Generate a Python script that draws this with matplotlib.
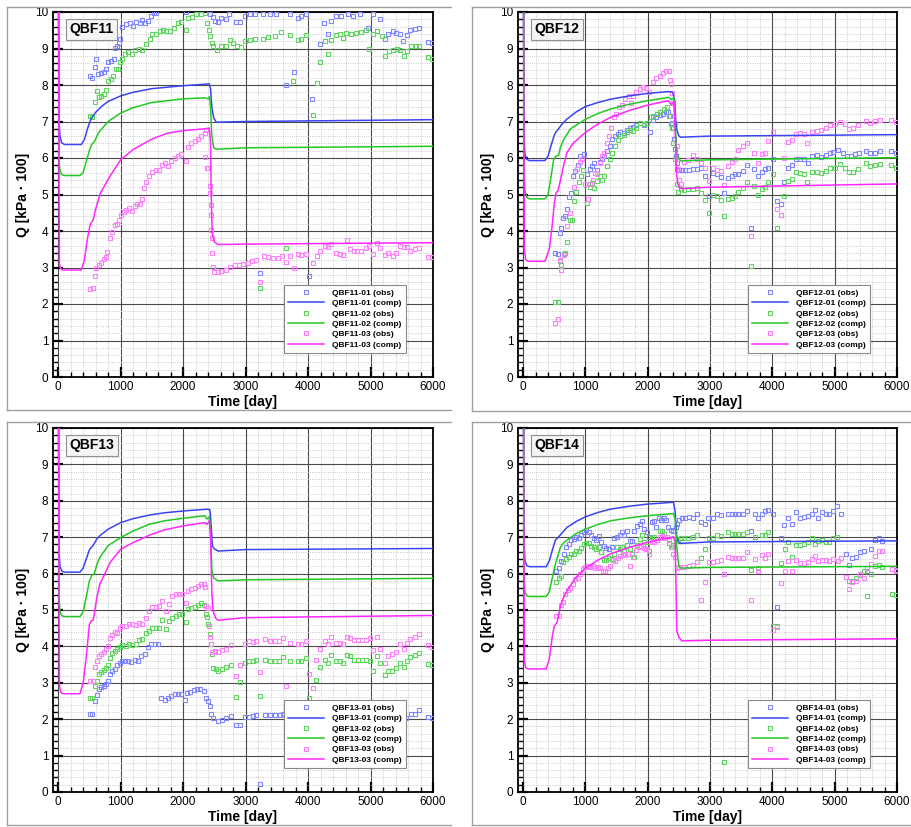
import matplotlib
matplotlib.use('Agg')
import matplotlib.pyplot as plt
from matplotlib.ticker import MultipleLocator
from matplotlib.lines import Line2D

plt.rcParams['font.family'] = ['Liberation Sans', 'DejaVu Sans']

# ---------------- QBF11 ----------------
qbf11_01_comp_t = [8, 15, 30, 55, 100, 370, 420, 470, 520, 600, 700, 800, 1000, 1200, 1500, 2000, 2420, 2440, 2460, 2490, 2530, 3000, 6000]
qbf11_01_comp_q = [10.5, 7.0, 6.6, 6.42, 6.37, 6.37, 6.5, 6.8, 7.05, 7.25, 7.42, 7.55, 7.7, 7.8, 7.9, 7.98, 8.03, 7.9, 7.4, 7.1, 6.98, 7.0, 7.05]
qbf11_02_comp_t = [8, 15, 30, 55, 100, 350, 400, 450, 500, 540, 580, 650, 800, 1000, 1200, 1500, 2000, 2350, 2400, 2420, 2440, 2460, 2490, 2530, 3000, 6000]
qbf11_02_comp_q = [10.5, 5.9, 5.65, 5.55, 5.52, 5.52, 5.6, 5.9, 6.2, 6.38, 6.45, 6.7, 7.0, 7.23, 7.38, 7.52, 7.62, 7.65, 7.62, 7.68, 7.4, 6.6, 6.28, 6.24, 6.28, 6.32]
qbf11_03_comp_t = [5, 20, 40, 80, 370, 420, 470, 510, 540, 560, 600, 680, 830, 1000, 1200, 1500, 1750, 2000, 2350, 2420, 2440, 2450, 2465, 2500, 2560, 3000, 6000]
qbf11_03_comp_q = [10.5, 3.1, 2.97, 2.93, 2.93, 3.2, 3.8, 4.15, 4.25, 4.3, 4.6, 5.05, 5.5, 5.95, 6.23, 6.52, 6.68, 6.75, 6.8, 6.82, 6.4, 5.0, 3.95, 3.7, 3.63, 3.64, 3.68]

qbf11_01_obs_t = [517, 549, 587, 613, 645, 693, 731, 773, 800, 843, 891, 907, 944, 976, 997, 1029, 1083, 1147, 1200, 1253, 1307, 1349, 1387, 1440, 1493, 1531, 1573, 2050, 2427, 2480, 2507, 2560, 2613, 2683, 2736, 2853, 2917, 2987, 3067, 3147, 3227, 3280, 3387, 3493, 3653, 3707, 3771, 3840, 3893, 3963, 4016, 4069, 4197, 4251, 4320, 4373, 4453, 4533, 4640, 4720, 4827, 4960, 5040, 5147, 5227, 5280, 5360, 5413, 5467, 5520, 5584, 5637, 5707, 5776, 5920, 5989]
qbf11_01_obs_q = [8.26, 8.18, 8.49, 8.72, 8.29, 8.32, 8.35, 8.44, 8.63, 8.67, 8.70, 9.02, 9.07, 9.16, 9.27, 9.6, 9.66, 9.69, 9.62, 9.73, 9.69, 9.78, 9.69, 9.75, 9.89, 9.96, 9.98, 10.0, 9.94, 9.87, 9.75, 9.72, 9.84, 9.8, 9.94, 9.72, 9.72, 9.9, 9.94, 9.94, 2.84, 9.94, 9.94, 9.94, 8.0, 9.94, 8.36, 9.84, 9.9, 9.94, 2.77, 7.62, 9.13, 9.69, 9.39, 9.75, 9.9, 9.9, 9.94, 9.9, 9.94, 9.57, 9.94, 9.82, 9.25, 9.40, 9.48, 9.43, 9.39, 9.2, 9.36, 9.5, 9.54, 9.57, 9.18, 9.14]

qbf11_02_obs_t = [507, 549, 587, 624, 656, 693, 731, 773, 800, 843, 880, 923, 960, 987, 1029, 1067, 1120, 1189, 1227, 1296, 1349, 1403, 1467, 1509, 1573, 1627, 1680, 1733, 1797, 1851, 1920, 1973, 2043, 2080, 2149, 2213, 2293, 2347, 2384, 2416, 2437, 2459, 2480, 2544, 2613, 2693, 2747, 2800, 2864, 2933, 2987, 3067, 3147, 3227, 3280, 3360, 3467, 3573, 3653, 3707, 3760, 3840, 3893, 3963, 4080, 4144, 4197, 4267, 4320, 4373, 4453, 4507, 4560, 4613, 4693, 4773, 4853, 4923, 4976, 5040, 5104, 5189, 5227, 5296, 5360, 5424, 5467, 5531, 5584, 5653, 5723, 5776, 5920, 5989]
qbf11_02_obs_q = [7.14, 7.12, 7.53, 7.83, 7.67, 7.71, 7.74, 7.86, 8.1, 8.17, 8.26, 8.44, 8.44, 8.63, 8.72, 8.86, 8.9, 8.84, 8.97, 8.99, 8.97, 9.11, 9.27, 9.39, 9.41, 9.48, 9.51, 9.48, 9.48, 9.57, 9.69, 9.72, 9.51, 9.84, 9.87, 9.94, 9.94, 9.96, 9.69, 9.51, 9.34, 9.16, 9.07, 8.97, 9.08, 9.08, 9.23, 9.16, 9.07, 9.05, 9.2, 9.23, 9.27, 2.45, 9.27, 9.32, 9.34, 9.45, 3.54, 9.36, 8.1, 9.23, 9.25, 9.36, 7.17, 8.06, 8.64, 9.2, 8.86, 9.23, 9.36, 9.39, 9.29, 9.43, 9.41, 9.43, 9.45, 9.51, 8.99, 9.39, 9.48, 9.34, 8.79, 8.93, 8.96, 8.99, 8.96, 8.79, 8.93, 9.07, 9.08, 9.08, 8.77, 8.72]

qbf11_03_obs_t = [517, 560, 587, 613, 656, 693, 731, 763, 784, 827, 869, 907, 944, 976, 1013, 1051, 1093, 1136, 1189, 1227, 1264, 1307, 1349, 1371, 1413, 1456, 1509, 1563, 1616, 1669, 1707, 1760, 1813, 1867, 1920, 1973, 2043, 2080, 2133, 2187, 2240, 2293, 2347, 2373, 2357, 2380, 2400, 2427, 2437, 2443, 2448, 2453, 2464, 2469, 2480, 2491, 2560, 2613, 2683, 2747, 2827, 2896, 2960, 3040, 3109, 3173, 3227, 3291, 3360, 3440, 3520, 3589, 3653, 3717, 3771, 3840, 3893, 3963, 4080, 4144, 4197, 4267, 4320, 4373, 4453, 4507, 4560, 4624, 4677, 4731, 4784, 4853, 4923, 4976, 5040, 5104, 5157, 5227, 5280, 5360, 5413, 5467, 5531, 5584, 5637, 5707, 5776, 5920, 5989]
qbf11_03_obs_q = [2.4, 2.45, 2.77, 2.98, 3.07, 3.11, 3.22, 3.3, 3.42, 3.8, 3.96, 4.17, 4.19, 4.29, 4.44, 4.53, 4.58, 4.62, 4.56, 4.69, 4.74, 4.74, 4.87, 5.17, 5.33, 5.51, 5.63, 5.66, 5.66, 5.8, 5.86, 5.79, 5.91, 6.0, 6.06, 6.12, 5.93, 6.3, 6.41, 6.46, 6.52, 6.61, 6.68, 6.78, 6.03, 5.72, 5.72, 5.22, 5.04, 4.72, 4.44, 4.03, 3.8, 3.39, 3.02, 2.88, 2.88, 2.91, 2.93, 3.02, 3.07, 3.07, 3.1, 3.13, 3.19, 3.21, 2.61, 3.32, 3.28, 3.25, 3.25, 3.32, 3.16, 3.32, 2.98, 3.37, 3.34, 3.37, 3.11, 3.32, 3.46, 3.59, 3.55, 3.64, 3.39, 3.37, 3.34, 3.74, 3.5, 3.46, 3.46, 3.46, 3.53, 3.59, 3.37, 3.68, 3.53, 3.34, 3.41, 3.32, 3.41, 3.59, 3.57, 3.55, 3.46, 3.5, 3.53, 3.28, 3.28]

# ---------------- QBF12 ----------------
qbf12_01_comp_t = [8, 15, 30, 60, 100, 350, 400, 450, 500, 530, 560, 620, 700, 850, 1000, 1200, 1400, 1700, 2000, 2333, 2400, 2430, 2450, 2470, 2500, 2530, 3000, 6000]
qbf12_01_comp_q = [10.5, 6.5, 6.1, 5.96, 5.93, 5.93, 6.05, 6.35, 6.62, 6.72, 6.78, 6.92, 7.06, 7.26, 7.41, 7.52, 7.61, 7.7, 7.77, 7.82, 7.8, 7.6, 7.0, 6.75, 6.6, 6.57, 6.6, 6.64]
qbf12_02_comp_t = [8, 15, 30, 60, 100, 350, 400, 450, 490, 530, 570, 600, 650, 760, 1000, 1200, 1400, 1700, 2000, 2333, 2380, 2420, 2440, 2460, 2490, 2530, 3000, 6000]
qbf12_02_comp_q = [10.5, 5.6, 5.1, 4.92, 4.88, 4.88, 5.0, 5.5, 5.96, 6.05, 6.08, 6.3, 6.5, 6.8, 7.06, 7.22, 7.34, 7.47, 7.57, 7.66, 7.6, 7.65, 7.0, 6.2, 6.0, 5.92, 5.95, 6.01]
qbf12_03_comp_t = [5, 20, 40, 80, 350, 420, 470, 500, 530, 560, 600, 650, 705, 800, 1000, 1200, 1400, 1700, 2000, 2333, 2380, 2420, 2440, 2460, 2480, 2510, 2550, 3000, 6000]
qbf12_03_comp_q = [10.5, 3.5, 3.22, 3.17, 3.17, 3.5, 4.2, 4.75, 5.05, 5.1, 5.4, 5.8, 6.15, 6.4, 6.7, 6.93, 7.11, 7.3, 7.45, 7.57, 7.45, 7.55, 6.8, 5.6, 5.3, 5.18, 5.16, 5.2, 5.29]

qbf12_01_obs_t = [518, 555, 587, 609, 641, 678, 705, 737, 769, 801, 838, 875, 907, 945, 982, 1025, 1068, 1105, 1142, 1185, 1228, 1265, 1302, 1345, 1388, 1431, 1479, 1516, 1559, 1612, 1665, 1708, 1762, 1815, 1879, 1932, 1986, 2039, 2082, 2135, 2189, 2242, 2295, 2333, 2359, 2386, 2402, 2423, 2439, 2455, 2466, 2477, 2509, 2546, 2600, 2669, 2733, 2797, 2850, 2920, 2989, 3053, 3117, 3171, 3224, 3294, 3347, 3400, 3454, 3523, 3587, 3651, 3704, 3774, 3827, 3881, 3934, 4014, 4078, 4132, 4185, 4254, 4308, 4377, 4441, 4505, 4575, 4628, 4719, 4788, 4858, 4922, 4975, 5055, 5135, 5199, 5269, 5322, 5391, 5498, 5573, 5642, 5733, 5909, 5989]
qbf12_01_obs_q = [3.41, 3.38, 3.94, 4.08, 4.36, 4.42, 4.61, 4.94, 5.03, 5.52, 5.64, 5.8, 6.06, 5.98, 6.1, 5.55, 5.71, 5.78, 5.85, 5.67, 5.89, 5.98, 6.06, 6.19, 6.33, 6.51, 6.59, 6.65, 6.7, 6.68, 6.77, 6.83, 6.86, 6.9, 6.95, 6.9, 6.95, 6.72, 7.05, 7.11, 7.17, 7.2, 7.27, 7.25, 7.14, 6.97, 6.83, 6.51, 6.24, 6.06, 5.85, 5.69, 5.67, 5.67, 5.67, 5.67, 5.71, 5.71, 5.73, 5.5, 4.97, 5.58, 5.55, 5.49, 5.05, 5.46, 5.52, 5.55, 5.55, 5.64, 5.8, 4.08, 5.69, 5.5, 5.61, 5.69, 5.73, 5.96, 4.82, 4.75, 5.34, 5.73, 5.8, 5.96, 5.98, 5.98, 5.85, 6.06, 6.07, 6.04, 6.07, 6.13, 6.17, 6.22, 6.15, 6.06, 6.06, 6.1, 6.13, 6.19, 6.13, 6.13, 6.19, 6.19, 6.13]

qbf12_02_obs_t = [518, 555, 587, 609, 651, 678, 705, 758, 785, 822, 854, 891, 929, 961, 1025, 1068, 1105, 1142, 1185, 1228, 1265, 1302, 1345, 1388, 1431, 1479, 1516, 1559, 1612, 1665, 1708, 1762, 1815, 1879, 1932, 1986, 2050, 2092, 2146, 2199, 2253, 2306, 2349, 2370, 2386, 2413, 2439, 2466, 2493, 2530, 2584, 2653, 2733, 2797, 2850, 2920, 2989, 3053, 3117, 3171, 3224, 3294, 3347, 3400, 3454, 3523, 3587, 3651, 3704, 3774, 3827, 3881, 3934, 4014, 4078, 4132, 4185, 4254, 4308, 4377, 4441, 4505, 4559, 4628, 4719, 4788, 4858, 4922, 5002, 5082, 5162, 5231, 5295, 5375, 5498, 5573, 5642, 5733, 5909, 5989]
qbf12_02_obs_q = [2.06, 2.06, 3.17, 3.06, 3.38, 3.41, 3.69, 4.31, 4.31, 4.82, 5.06, 5.34, 5.52, 5.67, 4.77, 5.21, 5.32, 5.18, 5.37, 5.5, 5.41, 5.52, 5.78, 5.96, 6.13, 6.33, 6.5, 6.59, 6.62, 6.72, 6.77, 6.74, 6.81, 6.95, 6.93, 6.97, 7.11, 7.14, 7.2, 7.27, 7.34, 7.39, 7.16, 6.93, 6.83, 6.42, 5.96, 5.28, 5.06, 5.14, 5.12, 5.16, 5.16, 5.18, 5.05, 4.84, 4.5, 5.0, 4.95, 4.86, 4.4, 4.88, 4.91, 4.95, 5.06, 5.18, 5.34, 3.05, 5.23, 5.0, 5.16, 5.21, 5.34, 5.55, 4.08, 4.45, 4.97, 5.37, 5.43, 5.61, 5.58, 5.55, 5.34, 5.61, 5.61, 5.58, 5.64, 5.73, 5.73, 5.83, 5.73, 5.61, 5.61, 5.69, 5.85, 5.78, 5.8, 5.83, 5.8, 5.73]

qbf12_03_obs_t = [518, 555, 587, 609, 651, 705, 758, 822, 865, 907, 950, 998, 1036, 1078, 1121, 1158, 1185, 1228, 1265, 1302, 1345, 1372, 1409, 1452, 1495, 1537, 1585, 1639, 1692, 1730, 1762, 1815, 1868, 1922, 1975, 2028, 2082, 2135, 2189, 2242, 2295, 2349, 2352, 2370, 2386, 2413, 2439, 2466, 2477, 2493, 2509, 2530, 2584, 2653, 2733, 2797, 2850, 2920, 2989, 3053, 3117, 3171, 3224, 3294, 3347, 3400, 3454, 3523, 3587, 3651, 3704, 3774, 3827, 3881, 3934, 4014, 4078, 4132, 4185, 4254, 4308, 4377, 4441, 4505, 4559, 4628, 4719, 4788, 4858, 4922, 5002, 5082, 5162, 5231, 5295, 5375, 5498, 5573, 5642, 5733, 5909, 5989]
qbf12_03_obs_q = [1.47, 1.58, 3.21, 2.92, 3.35, 4.15, 4.5, 5.21, 5.69, 5.89, 5.96, 5.3, 4.88, 5.28, 5.41, 5.6, 5.55, 5.87, 6.06, 6.13, 6.42, 6.61, 6.83, 7.11, 7.2, 7.39, 7.45, 7.63, 7.69, 7.52, 7.69, 7.8, 7.89, 7.94, 7.91, 7.82, 8.09, 8.18, 8.26, 8.33, 8.39, 8.37, 8.15, 8.03, 7.78, 7.52, 6.97, 6.33, 5.96, 5.69, 5.41, 5.3, 5.89, 5.94, 6.07, 5.98, 5.85, 5.73, 5.37, 5.73, 5.67, 5.64, 5.25, 5.78, 5.89, 5.98, 6.22, 6.33, 6.4, 3.87, 6.13, 5.87, 6.1, 6.13, 6.47, 6.7, 4.61, 4.45, 6.01, 6.44, 6.5, 6.65, 6.68, 6.65, 6.42, 6.72, 6.74, 6.77, 6.83, 6.9, 6.93, 6.99, 6.93, 6.79, 6.81, 6.9, 7.02, 6.95, 7.02, 7.05, 7.05, 6.99]

# ---------------- QBF13 ----------------
qbf13_01_comp_t = [8, 15, 30, 60, 100, 350, 400, 450, 500, 530, 570, 620, 667, 800, 1000, 1200, 1467, 1700, 2000, 2400, 2430, 2450, 2470, 2500, 2560, 3000, 6000]
qbf13_01_comp_q = [10.5, 6.6, 6.2, 6.07, 6.04, 6.04, 6.15, 6.4, 6.65, 6.72, 6.8, 6.95, 7.04, 7.22, 7.4, 7.51, 7.61, 7.67, 7.72, 7.77, 7.75, 7.3, 6.75, 6.68, 6.62, 6.66, 6.69]
qbf13_02_comp_t = [8, 15, 30, 60, 100, 350, 400, 450, 500, 540, 580, 620, 667, 800, 1000, 1200, 1467, 1700, 2000, 2347, 2380, 2420, 2440, 2460, 2490, 2560, 3000, 6000]
qbf13_02_comp_q = [10.5, 5.3, 4.95, 4.84, 4.82, 4.82, 4.95, 5.35, 5.8, 5.95, 6.0, 6.25, 6.44, 6.77, 6.99, 7.17, 7.36, 7.45, 7.52, 7.59, 7.5, 7.56, 7.2, 6.1, 5.88, 5.8, 5.83, 5.87]
qbf13_03_comp_t = [5, 20, 40, 80, 350, 400, 450, 500, 530, 560, 580, 620, 667, 750, 830, 1000, 1200, 1467, 1700, 2000, 2347, 2380, 2420, 2440, 2460, 2480, 2520, 2560, 3000, 6000]
qbf13_03_comp_q = [10.5, 2.95, 2.74, 2.7, 2.7, 3.0, 3.7, 4.6, 4.7, 4.72, 4.9, 5.35, 5.71, 6.0, 6.3, 6.67, 6.85, 7.06, 7.2, 7.31, 7.4, 7.35, 7.45, 7.0, 5.5, 4.97, 4.78, 4.72, 4.79, 4.85]

qbf13_01_obs_t = [507, 549, 587, 624, 656, 693, 731, 763, 800, 837, 869, 907, 944, 987, 1029, 1067, 1120, 1173, 1227, 1280, 1333, 1387, 1440, 1493, 1547, 1600, 1653, 1707, 1760, 1813, 1867, 1920, 1973, 2027, 2064, 2117, 2171, 2224, 2277, 2331, 2373, 2400, 2427, 2453, 2480, 2560, 2629, 2693, 2773, 2853, 2917, 2987, 3056, 3120, 3173, 3227, 3307, 3387, 3467, 3547, 3600, 3653, 3720, 3840, 3960, 4100, 4250, 4400, 4600, 4800, 5000, 5200, 5400, 5573, 5653, 5707, 5776, 5920, 5989]
qbf13_01_obs_q = [2.13, 2.15, 2.5, 2.66, 2.82, 2.88, 2.91, 2.97, 3.05, 3.25, 3.32, 3.39, 3.49, 3.55, 3.6, 3.6, 3.61, 3.58, 3.64, 3.61, 3.73, 3.8, 3.98, 4.06, 4.07, 4.07, 2.59, 2.54, 2.57, 2.63, 2.7, 2.7, 2.7, 2.54, 2.72, 2.75, 2.79, 2.82, 2.84, 2.77, 2.57, 2.51, 2.36, 2.13, 2.04, 1.96, 1.99, 2.04, 2.08, 1.83, 1.83, 2.06, 2.06, 2.08, 2.11, 0.22, 2.11, 2.11, 2.11, 2.11, 2.15, 1.47, 2.12, 2.1, 2.15, 2.2, 2.15, 2.2, 2.25, 2.2, 2.25, 2.15, 2.1, 2.04, 2.13, 2.15, 2.24, 2.06, 2.02]

qbf13_02_obs_t = [507, 549, 587, 624, 656, 693, 731, 763, 800, 837, 869, 907, 944, 987, 1029, 1083, 1136, 1189, 1243, 1296, 1349, 1403, 1456, 1509, 1563, 1616, 1669, 1723, 1776, 1829, 1883, 1936, 1989, 2043, 2080, 2133, 2187, 2240, 2293, 2331, 2363, 2384, 2400, 2427, 2453, 2469, 2480, 2523, 2560, 2629, 2693, 2773, 2853, 2917, 2987, 3056, 3120, 3173, 3227, 3307, 3387, 3467, 3536, 3600, 3653, 3717, 3840, 3893, 3963, 4016, 4133, 4197, 4267, 4320, 4373, 4443, 4507, 4560, 4624, 4677, 4731, 4800, 4869, 4933, 4987, 5040, 5104, 5157, 5227, 5280, 5349, 5413, 5467, 5531, 5584, 5637, 5707, 5776, 5920, 5989]
qbf13_02_obs_q = [2.57, 2.59, 2.91, 3.06, 3.25, 3.3, 3.34, 3.41, 3.5, 3.67, 3.83, 3.87, 3.94, 3.98, 4.04, 4.01, 4.07, 4.04, 4.07, 4.17, 4.19, 4.38, 4.42, 4.5, 4.5, 4.51, 4.72, 4.47, 4.7, 4.79, 4.83, 4.88, 4.9, 4.68, 5.02, 5.06, 5.08, 5.14, 5.2, 5.14, 4.9, 4.81, 4.61, 4.33, 4.06, 3.78, 3.41, 3.37, 3.32, 3.37, 3.43, 3.5, 2.61, 3.03, 3.55, 3.61, 3.61, 3.64, 2.63, 3.64, 3.61, 3.61, 3.61, 3.71, 2.36, 3.61, 3.6, 3.61, 3.67, 2.59, 3.09, 3.43, 3.64, 3.55, 3.76, 3.6, 3.6, 3.55, 3.76, 3.73, 3.64, 3.64, 3.64, 3.64, 3.61, 3.32, 3.73, 3.55, 3.21, 3.32, 3.32, 3.41, 3.55, 3.43, 3.61, 3.71, 3.76, 3.83, 3.52, 3.49]

qbf13_03_obs_t = [517, 560, 587, 624, 656, 693, 731, 763, 800, 837, 869, 907, 944, 987, 1029, 1083, 1136, 1189, 1243, 1296, 1349, 1403, 1456, 1509, 1563, 1616, 1669, 1723, 1776, 1829, 1883, 1936, 1989, 2043, 2080, 2133, 2187, 2240, 2293, 2331, 2347, 2373, 2400, 2416, 2437, 2453, 2469, 2507, 2560, 2629, 2693, 2773, 2853, 2917, 2987, 3056, 3120, 3173, 3227, 3307, 3387, 3467, 3536, 3600, 3653, 3717, 3840, 3893, 3963, 4016, 4080, 4133, 4197, 4267, 4320, 4373, 4443, 4507, 4560, 4624, 4677, 4731, 4800, 4869, 4933, 4987, 5040, 5104, 5157, 5227, 5280, 5349, 5413, 5467, 5531, 5584, 5637, 5707, 5776, 5920, 5989]
qbf13_03_obs_q = [3.05, 3.05, 3.43, 3.6, 3.73, 3.8, 3.85, 3.92, 4.01, 4.22, 4.31, 4.4, 4.38, 4.51, 4.56, 4.56, 4.61, 4.62, 4.59, 4.65, 4.61, 4.79, 4.97, 5.08, 5.08, 5.11, 5.25, 4.97, 5.17, 5.39, 5.43, 5.45, 5.43, 5.2, 5.52, 5.57, 5.6, 5.66, 5.71, 5.72, 5.63, 5.11, 5.06, 4.56, 4.26, 4.07, 3.85, 3.87, 3.85, 3.89, 3.92, 4.04, 3.18, 3.5, 4.07, 4.15, 4.13, 4.15, 3.3, 4.19, 4.15, 4.15, 4.15, 4.24, 2.91, 4.1, 4.07, 4.07, 4.15, 3.25, 2.86, 3.64, 3.94, 4.15, 4.07, 4.26, 4.1, 4.1, 4.07, 4.26, 4.22, 4.17, 4.17, 4.17, 4.17, 4.24, 3.89, 4.26, 3.92, 3.55, 3.73, 3.78, 3.85, 4.07, 3.94, 4.1, 4.19, 4.26, 4.33, 4.04, 3.98]

# ---------------- QBF14 ----------------
qbf14_01_comp_t = [8, 15, 30, 60, 100, 370, 420, 470, 518, 550, 600, 705, 850, 1000, 1200, 1400, 1700, 2000, 2413, 2440, 2466, 2490, 2520, 3000, 6000]
qbf14_01_comp_q = [10.5, 6.8, 6.35, 6.22, 6.19, 6.19, 6.35, 6.65, 6.92, 6.97, 7.07, 7.27, 7.43, 7.56, 7.68, 7.77, 7.85, 7.91, 7.96, 7.7, 6.99, 6.88, 6.83, 6.87, 6.9]
qbf14_02_comp_t = [8, 15, 30, 60, 100, 370, 420, 470, 518, 560, 598, 650, 705, 850, 1000, 1200, 1400, 1700, 2000, 2413, 2440, 2466, 2500, 2530, 3000, 6000]
qbf14_02_comp_q = [10.5, 5.9, 5.5, 5.39, 5.37, 5.37, 5.5, 5.9, 6.26, 6.5, 6.72, 6.85, 6.92, 7.1, 7.22, 7.35, 7.45, 7.53, 7.59, 7.65, 7.5, 6.72, 6.2, 6.15, 6.17, 6.2]
qbf14_03_comp_t = [5, 20, 40, 80, 370, 420, 470, 500, 544, 570, 598, 650, 705, 850, 1000, 1200, 1400, 1700, 2000, 2413, 2440, 2455, 2466, 2500, 2546, 3000, 6000]
qbf14_03_comp_q = [10.5, 3.6, 3.42, 3.38, 3.38, 3.65, 4.3, 4.55, 4.66, 4.85, 5.11, 5.35, 5.53, 5.9, 6.15, 6.37, 6.54, 6.72, 6.86, 7.01, 6.9, 5.5, 4.43, 4.25, 4.15, 4.17, 4.21]

qbf14_01_obs_t = [534, 571, 609, 651, 694, 731, 769, 811, 854, 891, 929, 972, 1014, 1052, 1089, 1132, 1174, 1212, 1249, 1292, 1334, 1372, 1425, 1463, 1505, 1548, 1585, 1623, 1665, 1708, 1745, 1783, 1826, 1868, 1906, 1943, 1986, 2028, 2066, 2103, 2135, 2173, 2210, 2253, 2295, 2333, 2370, 2413, 2455, 2477, 2509, 2546, 2600, 2669, 2733, 2797, 2850, 2920, 2973, 3053, 3107, 3171, 3224, 3294, 3347, 3400, 3454, 3523, 3587, 3651, 3721, 3774, 3827, 3881, 3934, 4014, 4068, 4132, 4185, 4254, 4308, 4377, 4441, 4505, 4575, 4628, 4682, 4735, 4804, 4858, 4911, 4975, 5039, 5109, 5178, 5231, 5285, 5349, 5402, 5466, 5519, 5589, 5642, 5712, 5765, 5925, 5989]
qbf14_01_obs_q = [6.08, 6.15, 6.35, 6.54, 6.74, 6.81, 6.92, 6.95, 7.01, 6.98, 7.07, 7.13, 7.2, 7.13, 7.07, 6.98, 6.92, 7.04, 6.86, 6.76, 6.7, 6.67, 6.74, 6.99, 7.01, 7.07, 7.13, 7.07, 7.18, 6.9, 6.9, 7.18, 7.31, 7.36, 7.45, 7.22, 7.13, 7.01, 7.43, 7.45, 7.27, 7.53, 7.47, 7.54, 7.47, 7.27, 7.2, 7.18, 7.27, 7.36, 7.47, 7.53, 7.54, 7.56, 7.54, 7.64, 7.41, 7.36, 7.54, 7.54, 7.65, 7.62, 6.0, 7.65, 7.65, 7.65, 7.65, 7.65, 7.73, 7.18, 7.65, 7.53, 7.65, 7.71, 7.75, 7.65, 5.09, 6.98, 7.34, 7.53, 7.36, 7.68, 7.54, 7.56, 7.59, 7.64, 7.75, 7.54, 7.68, 7.65, 7.65, 7.73, 7.86, 7.64, 6.55, 6.24, 6.44, 6.46, 6.58, 6.63, 6.08, 6.67, 6.92, 6.98, 6.9, 6.12, 6.1]

qbf14_02_obs_t = [534, 571, 609, 641, 694, 731, 769, 811, 854, 891, 929, 972, 1014, 1052, 1089, 1132, 1174, 1212, 1249, 1292, 1334, 1372, 1425, 1463, 1505, 1548, 1585, 1623, 1665, 1708, 1745, 1783, 1826, 1868, 1906, 1943, 1986, 2028, 2066, 2103, 2146, 2189, 2226, 2263, 2306, 2349, 2386, 2413, 2455, 2493, 2530, 2584, 2653, 2733, 2797, 2850, 2920, 2989, 3053, 3107, 3171, 3224, 3294, 3347, 3400, 3454, 3523, 3587, 3651, 3721, 3774, 3827, 3881, 3934, 4014, 4078, 4132, 4201, 4254, 4308, 4377, 4441, 4505, 4575, 4628, 4682, 4735, 4804, 4858, 4911, 4975, 5039, 5178, 5231, 5285, 5349, 5402, 5466, 5519, 5589, 5642, 5712, 5765, 5925, 5989]
qbf14_02_obs_q = [5.76, 5.88, 5.94, 6.33, 6.4, 6.46, 6.54, 6.55, 6.61, 6.63, 6.7, 6.81, 6.83, 6.83, 6.76, 6.74, 6.67, 6.74, 6.58, 6.37, 6.37, 6.43, 6.4, 6.54, 6.74, 6.67, 6.74, 6.61, 6.79, 6.67, 6.54, 6.46, 6.79, 6.95, 7.07, 6.86, 6.76, 6.63, 7.01, 7.01, 6.92, 7.16, 7.16, 7.09, 7.01, 6.83, 6.74, 6.79, 6.95, 6.9, 6.98, 6.98, 6.99, 7.01, 7.07, 6.44, 6.67, 6.99, 6.98, 7.07, 7.04, 0.82, 7.13, 7.09, 7.09, 7.09, 7.09, 7.13, 6.1, 7.01, 6.15, 7.07, 7.07, 7.13, 4.56, 4.56, 6.28, 6.67, 6.86, 6.46, 6.79, 6.79, 6.81, 6.88, 6.98, 6.81, 6.9, 6.92, 6.88, 6.88, 6.98, 7.01, 5.91, 5.8, 5.8, 5.88, 5.97, 6.08, 5.39, 5.99, 6.21, 6.24, 6.17, 5.45, 5.42]

qbf14_03_obs_t = [534, 571, 609, 641, 678, 715, 758, 801, 838, 875, 918, 961, 998, 1036, 1078, 1121, 1158, 1196, 1238, 1281, 1318, 1356, 1399, 1441, 1479, 1516, 1559, 1601, 1639, 1676, 1719, 1762, 1815, 1852, 1890, 1932, 1975, 2028, 2066, 2103, 2146, 2189, 2226, 2263, 2306, 2349, 2370, 2402, 2439, 2466, 2509, 2584, 2669, 2733, 2797, 2850, 2920, 2989, 3053, 3107, 3171, 3224, 3294, 3347, 3400, 3454, 3523, 3587, 3651, 3721, 3774, 3827, 3881, 3934, 4014, 4078, 4132, 4201, 4254, 4308, 4377, 4441, 4505, 4575, 4628, 4682, 4735, 4804, 4858, 4911, 4975, 5055, 5109, 5178, 5231, 5285, 5349, 5402, 5466, 5519, 5589, 5642, 5712, 5765, 5925, 5989]
qbf14_03_obs_q = [4.84, 4.84, 5.14, 5.21, 5.44, 5.55, 5.6, 5.71, 5.85, 5.89, 6.0, 6.12, 6.19, 6.21, 6.19, 6.21, 6.15, 6.19, 6.15, 6.08, 6.08, 6.15, 6.21, 6.37, 6.35, 6.44, 6.49, 6.54, 6.52, 6.55, 6.21, 6.46, 6.65, 6.74, 6.76, 6.7, 6.67, 6.55, 6.86, 6.88, 6.92, 7.01, 7.04, 6.99, 7.01, 6.92, 6.72, 6.54, 6.46, 6.15, 6.17, 6.19, 6.21, 6.24, 6.31, 5.27, 5.78, 6.33, 6.31, 6.35, 6.37, 5.99, 6.46, 6.43, 6.43, 6.43, 6.44, 6.58, 5.27, 6.4, 6.08, 6.52, 6.44, 6.54, 4.45, 4.52, 5.73, 6.08, 6.35, 6.08, 6.37, 6.28, 6.28, 6.31, 6.4, 6.49, 6.35, 6.37, 6.37, 6.35, 6.4, 6.35, 6.43, 5.91, 5.57, 5.78, 5.8, 5.99, 5.89, 6.15, 6.26, 6.49, 6.61, 6.63, 6.12, 6.08]

panel_names = ['QBF11', 'QBF12', 'QBF13', 'QBF14']
series_ids = ['01', '02', '03']

data = {
    'QBF11': [(qbf11_01_obs_t, qbf11_01_obs_q, qbf11_01_comp_t, qbf11_01_comp_q),
              (qbf11_02_obs_t, qbf11_02_obs_q, qbf11_02_comp_t, qbf11_02_comp_q),
              (qbf11_03_obs_t, qbf11_03_obs_q, qbf11_03_comp_t, qbf11_03_comp_q)],
    'QBF12': [(qbf12_01_obs_t, qbf12_01_obs_q, qbf12_01_comp_t, qbf12_01_comp_q),
              (qbf12_02_obs_t, qbf12_02_obs_q, qbf12_02_comp_t, qbf12_02_comp_q),
              (qbf12_03_obs_t, qbf12_03_obs_q, qbf12_03_comp_t, qbf12_03_comp_q)],
    'QBF13': [(qbf13_01_obs_t, qbf13_01_obs_q, qbf13_01_comp_t, qbf13_01_comp_q),
              (qbf13_02_obs_t, qbf13_02_obs_q, qbf13_02_comp_t, qbf13_02_comp_q),
              (qbf13_03_obs_t, qbf13_03_obs_q, qbf13_03_comp_t, qbf13_03_comp_q)],
    'QBF14': [(qbf14_01_obs_t, qbf14_01_obs_q, qbf14_01_comp_t, qbf14_01_comp_q),
              (qbf14_02_obs_t, qbf14_02_obs_q, qbf14_02_comp_t, qbf14_02_comp_q),
              (qbf14_03_obs_t, qbf14_03_obs_q, qbf14_03_comp_t, qbf14_03_comp_q)],
}

comp_colors = ['#3a44f2', '#22c922', '#ff26ff']
obs_colors = ['#7f86ff', '#5fd45f', '#ff80ff']

W, H = 911, 827
fig = plt.figure(figsize=(W / 100, H / 100), dpi=100)

# panel frames (left, top, bottom lines)
frames = [(7, 7, 451, 410), (472, 7, 911, 411), (7, 422, 451, 825), (472, 422, 911, 825)]
for (l, t, r, b) in frames:
    for xs, ys in [([l, l], [t, b]), ([l, r], [t, t]), ([l, r], [b, b])]:
        fig.add_artist(Line2D([x / W for x in xs], [1 - y / H for y in ys],
                              color='#a0a0a0', lw=1.0, transform=fig.transFigure))

axes_px = [(52.5, 12, 433, 377), (517.5, 12, 897, 377), (52.5, 428, 433, 792), (517.5, 428, 897, 792)]

for name, (l, t, r, b) in zip(panel_names, axes_px):
    ax = fig.add_axes([l / W, 1 - b / H, (r - l) / W, (b - t) / H])
    ax.set_xlim(-90, 6000)
    ax.set_ylim(0, 10)
    ax.xaxis.set_major_locator(MultipleLocator(1000))
    ax.xaxis.set_minor_locator(MultipleLocator(200))
    ax.yaxis.set_major_locator(MultipleLocator(1))
    ax.yaxis.set_minor_locator(MultipleLocator(0.2))
    ax.grid(which='major', color='#4a4a4a', lw=0.8, zorder=0)
    ax.grid(which='minor', color='#c4c4c4', lw=0.6, ls=(0, (1.2, 1.5)), zorder=0)
    ax.set_axisbelow(True)
    ax.tick_params(which='both', direction='in', top=False, right=False, labelsize=8.5, pad=3)
    ax.tick_params(which='major', length=7, width=1.6, color='black')
    ax.tick_params(which='minor', length=3.5, width=1.0, color='black')
    for sp in ax.spines.values():
        sp.set_linewidth(1.3)
    ax.set_xlabel('Time [day]', fontsize=10, fontweight='bold', labelpad=1)
    ax.set_ylabel('Q [kPa · 100]', fontsize=10, fontweight='bold', labelpad=4)

    handles, labels = [], []
    for i, (ot, oq, ct, cq) in enumerate(data[name]):
        h_obs, = ax.plot(ot, oq, ls='none', marker='s', ms=3.2, mfc='none',
                         mec=obs_colors[i], mew=0.8, zorder=3)
        h_comp, = ax.plot(ct, cq, color=comp_colors[i], lw=1.1, zorder=4)
        handles += [h_obs, h_comp]
        labels += [f'{name}-{series_ids[i]} (obs)', f'{name}-{series_ids[i]} (comp)']

    leg = ax.legend(handles, labels, loc='lower right', bbox_to_anchor=(0.929, 0.066),
                    prop={'size': 6, 'weight': 'bold'}, frameon=True, fancybox=False,
                    edgecolor='#8a8a8a', framealpha=1, handlelength=4.3, handletextpad=1.0,
                    labelspacing=0.3, borderpad=0.5, borderaxespad=0, numpoints=1)
    leg.get_frame().set_linewidth(0.8)
    leg.set_zorder(10)

    ax.text(0.045, 0.953, name, transform=ax.transAxes, ha='left', va='center',
            fontsize=10, fontweight='bold', zorder=11,
            bbox=dict(boxstyle='square,pad=0.25', fc='#f4f4f4', ec='#909090', lw=0.8))

fig.savefig('out.png', dpi=100)
